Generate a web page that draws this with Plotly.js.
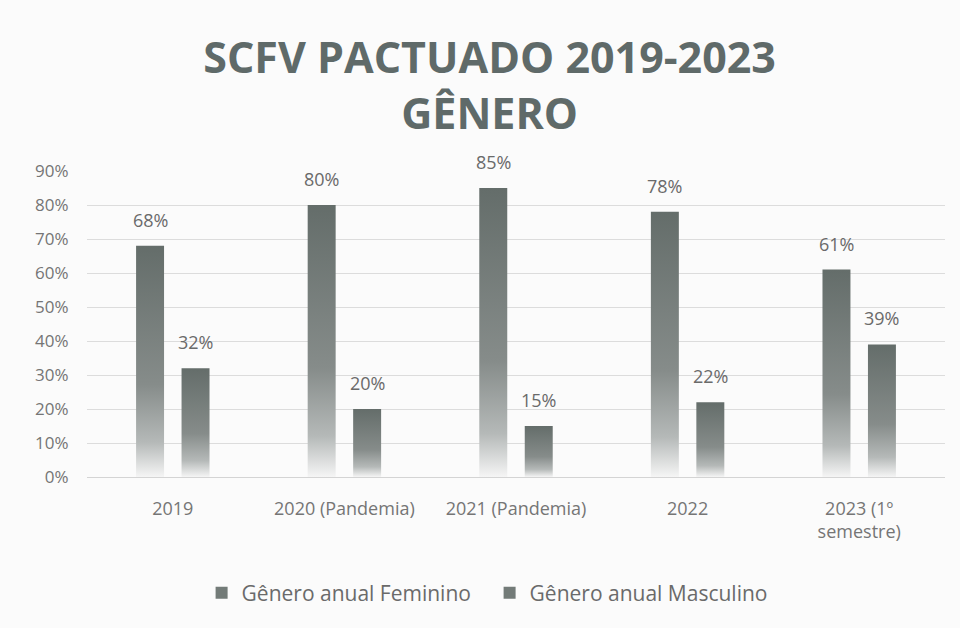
<!DOCTYPE html>
<html>
<head>
<meta charset="utf-8">
<script src="https://cdn.plot.ly/plotly-3.0.1.min.js"></script>
<style>
html,body{margin:0;padding:0;background:#fbfbfb;}
#chart{width:960px;height:628px;}
</style>
</head>
<body>
<div id="chart"></div>
<script>
const categories = ["2019", "2020 (Pandemia)", "2021 (Pandemia)", "2022", "2023 (1º<br>semestre)"];
const feminino = [0.68, 0.80, 0.85, 0.78, 0.61];
const masculino = [0.32, 0.20, 0.15, 0.22, 0.39];
const seriesNames = ["Gênero anual Feminino", "Gênero anual Masculino"];
const yTicks = [0, 0.1, 0.2, 0.3, 0.4, 0.5, 0.6, 0.7, 0.8, 0.9];

const FONT = "'Open Sans', 'Liberation Sans', sans-serif";
const W = 960, H = 628;
const margin = {l: 87, r: 15, t: 171, b: 151};
const bargap = 0.47, bargroupgap = 0.385;

function barTrace(name, values) {
  return {
    type: "bar",
    name: name,
    x: categories,
    y: values,
    marker: {color: "#737b78", line: {width: 0}},
    hoverinfo: "skip"
  };
}

const data = [barTrace(seriesNames[0], feminino), barTrace(seriesNames[1], masculino)];

// data labels: placed above each bar, derived from the data arrays
const plotW = W - margin.l - margin.r;
const catW = plotW / categories.length;
const slot = catW * (1 - bargap) / 2;
const annotations = [];
[feminino, masculino].forEach((vals, si) => {
  vals.forEach((v, i) => {
    annotations.push({
      x: i, y: v, xref: "x", yref: "y",
      xshift: (si === 0 ? -1 : 1) * slot / 2,
      yshift: 12,
      yanchor: "bottom", xanchor: "center",
      text: Math.round(v * 100) + "%",
      showarrow: false,
      font: {family: FONT, size: 18, color: "#6a6a6a"}
    });
  });
});

const layout = {
  width: W, height: H,
  paper_bgcolor: "#fbfbfb",
  plot_bgcolor: "#fbfbfb",
  margin: margin,
  title: {
    text: "<b>SCFV PACTUADO 2019-2023<br>GÊNERO</b>",
    font: {family: FONT, size: 43, color: "#5f6a69"},
    x: 0.51, xanchor: "center", xref: "container",
    y: 1 - 73 / H, yanchor: "middle", yref: "container",
    automargin: false
  },
  bargap: bargap,
  bargroupgap: bargroupgap,
  barmode: "group",
  xaxis: {
    type: "category",
    range: [-0.5, categories.length - 0.5],
    autorange: false,
    tickfont: {family: FONT, size: 18, color: "#757575"},
    showgrid: false,
    showline: false,
    ticks: "",
    ticklabelstandoff: 19,
    automargin: false
  },
  yaxis: {
    range: [0, 0.9],
    autorange: false,
    tickvals: yTicks,
    tickformat: ".0%",
    tickfont: {family: FONT, size: 17, color: "#757575"},
    gridcolor: "#dcdcdc",
    gridwidth: 1,
    zeroline: true,
    zerolinecolor: "#d4d4d4",
    showline: false,
    ticks: "outside",
    ticklen: 14,
    tickcolor: "rgba(0,0,0,0)",
    automargin: false
  },
  legend: {
    orientation: "h",
    xref: "container", yref: "container",
    x: 0.51, xanchor: "center",
    y: 1 - 593 / H, yanchor: "middle",
    font: {family: FONT, size: 21, color: "#6a6a6a"},
    itemwidth: 30,
    entrywidth: 243,
    entrywidthmode: "pixels",
    traceorder: "normal"
  },
  annotations: annotations,
  showlegend: true
};

function applyGradient() {
  const svg = document.querySelector("#chart .main-svg");
  if (!svg) return;
  let defs = svg.querySelector("defs");
  if (!defs) { defs = document.createElementNS("http://www.w3.org/2000/svg", "defs"); svg.prepend(defs); }
  if (!document.getElementById("barGrad")) {
    const g = document.createElementNS("http://www.w3.org/2000/svg", "linearGradient");
    g.setAttribute("id", "barGrad");
    g.setAttribute("x1", "0"); g.setAttribute("y1", "0");
    g.setAttribute("x2", "0"); g.setAttribute("y2", "1");
    [["0", "#646d6a"], ["0.6", "#868c8a"], ["0.85", "#b5b9b8"], ["1", "#f5f5f5"]].forEach(([o, c]) => {
      const s = document.createElementNS("http://www.w3.org/2000/svg", "stop");
      s.setAttribute("offset", o); s.setAttribute("stop-color", c);
      g.appendChild(s);
    });
    defs.appendChild(g);
  }
  document.querySelectorAll("#chart .barlayer .point path").forEach(p => {
    p.style.fill = "url(#barGrad)";
  });
}

Plotly.newPlot("chart", data, layout, {displayModeBar: false, staticPlot: true}).then(gd => {
  applyGradient();
  gd.on("plotly_afterplot", applyGradient);
});
</script>
</body>
</html>
